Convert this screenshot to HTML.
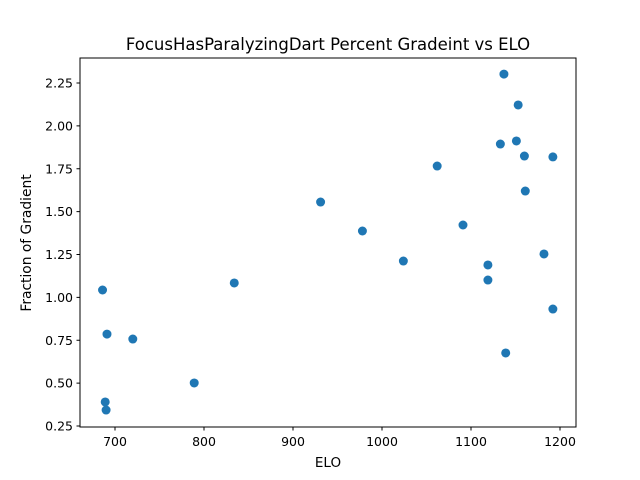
<!DOCTYPE html>
<html><head><meta charset="utf-8"><style>body{margin:0;background:#fff}svg{display:block;font-family:"DejaVu Sans","Liberation Sans",sans-serif}</style></head>
<body>
<svg id="chart" width="640" height="480">
<rect width="640" height="480" fill="#fff"/>
<text x="328" y="50" text-anchor="middle" font-size="16.5">FocusHasParalyzingDart Percent Gradeint vs ELO</text>
<g id="plot"></g>
<rect x="80" y="58" width="496" height="369" fill="none" stroke="#000" stroke-width="1"/>
<text x="328" y="467" text-anchor="middle" font-size="13.5">ELO</text>
<text transform="translate(31,243) rotate(-90)" text-anchor="middle" font-size="13.8">Fraction of Gradient</text>
</svg>
<script>
const elo = [686,691,689,690,720,789,834,931,978,1024,1062,1091,1119,1119,1137,1133,1139,1153,1151,1160,1161,1192,1182,1192];
const frac = [1.043,0.786,0.390,0.343,0.757,0.501,1.084,1.556,1.387,1.212,1.766,1.422,1.189,1.101,2.302,1.894,0.676,2.122,1.912,1.824,1.620,1.819,1.253,0.932];
const xTicks = [700,800,900,1000,1100,1200];
const yTicks = [0.25,0.50,0.75,1.00,1.25,1.50,1.75,2.00,2.25];
const NS="http://www.w3.org/2000/svg";
const xs = v => 115 + (v-700)*0.89;
const ys = v => 83 + (2.25-v)*171.5;
const g = document.getElementById('plot');
function mk(t,a){const e=document.createElementNS(NS,t);for(const k in a)e.setAttribute(k,a[k]);g.appendChild(e);return e;}
xTicks.forEach(t=>{
  const l=mk('line',{x1:xs(t),x2:xs(t),y1:427,y2:430.5,stroke:'#000'});
  
  
  const tx=mk('text',{x:xs(t),y:446,'text-anchor':'middle','font-size':'12.5'});tx.textContent=t;
  
  
});
yTicks.forEach(t=>{
  const l=mk('line',{x1:76.5,x2:80,y1:ys(t),y2:ys(t),stroke:'#000'});
  
  
  const tx=mk('text',{x:73,y:ys(t)+4.5,'text-anchor':'end','font-size':'12.5'});tx.textContent=t.toFixed(2);
  
  
});
elo.forEach((v,i)=>{
  const c=mk('circle',{cx:xs(v),cy:ys(frac[i]),r:4.5,fill:'#1f77b4'});
  
  
});
</script>
</body></html>
